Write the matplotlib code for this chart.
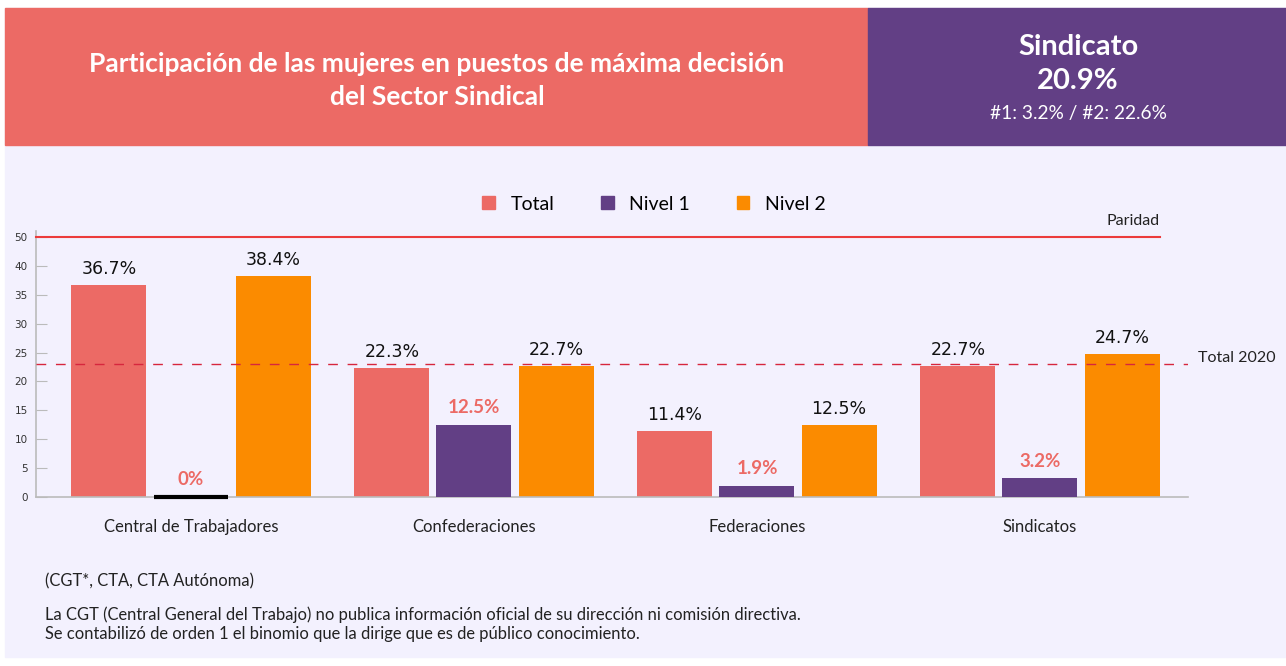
import numpy as np
import matplotlib.pyplot as plt
from matplotlib.patches import Rectangle, Patch

# data
categories = ['Central de Trabajadores', 'Confederaciones', 'Federaciones', 'Sindicatos']
total = [36.7, 22.3, 11.4, 22.7]
nivel1 = [0.0, 12.5, 1.9, 3.2]
nivel2 = [38.4, 22.7, 12.5, 24.7]
series_names = ['Total', 'Nivel 1', 'Nivel 2']
total_2020 = 23.0
paridad_pos = 45   # the chart draws the "50" tick where 45 would be
ytick_pos = [0, 5, 10, 15, 20, 25, 30, 35, 40, 45]
ytick_labels = ['0', '5', '10', '15', '20', '25', '30', '35', '40', '50']

c_total = '#ec6a65'
c_n1 = '#623f85'
c_n2 = '#fb8b00'
bg = '#f3f1fe'

plt.rcParams['font.family'] = ['Lato', 'DejaVu Sans']

fig = plt.figure(figsize=(12.86, 6.66), dpi=100)
fig.patch.set_facecolor('white')

# background panels
W, H = 1286, 666
def px_rect(x0, y0, x1, y1, color):
    fig.patches.append(Rectangle((x0 / W, 1 - y1 / H), (x1 - x0) / W, (y1 - y0) / H,
                                 transform=fig.transFigure, color=color, zorder=-5))
px_rect(5, 8, 1286, 657, bg)
px_rect(5, 8, 868, 145, c_total)
px_rect(868, 8, 1286, 145, c_n1)

fig.text(437 / W, 1 - 64 / H, 'Participación de las mujeres en puestos de máxima decisión',
         color='white', fontsize=19, fontweight='bold', ha='center', va='center')
fig.text(437 / W, 1 - 97 / H, 'del Sector Sindical',
         color='white', fontsize=19, fontweight='bold', ha='center', va='center')
fig.text(1078 / W, 1 - 47 / H, 'Sindicato', color='white', fontsize=21,
         fontweight='bold', ha='center', va='center')
fig.text(1078 / W, 1 - 81 / H, '20.9%', color='white', fontsize=21,
         fontweight='bold', ha='center', va='center')
fig.text(1078 / W, 1 - 114 / H, '#1: 3.2% / #2: 22.6%', color='white', fontsize=13.8,
         ha='center', va='center')

# axes
ax = fig.add_axes([36 / W, 0.2542, (1188 - 36) / W, 0.3996])
ax.set_zorder(2)
ax.set_facecolor('none')
x = np.arange(len(categories))
off = 0.29
w = 0.265

b1 = ax.bar(x - off, total, w, color=c_total, zorder=2)
edge = ['black' if v == 0 else 'none' for v in nivel1]
b2 = ax.bar(x, nivel1, w, color=c_n1, edgecolor=edge, linewidth=3, zorder=4, clip_on=False)
b3 = ax.bar(x + off, nivel2, w, color=c_n2, zorder=2)

for bars, vals in ((b1, total), (b3, nivel2)):
    for r, v in zip(bars, vals):
        ax.annotate(f'{v:g}%', (r.get_x() + r.get_width() / 2, v), xytext=(0, 5),
                    textcoords='offset points', ha='center', va='bottom',
                    fontsize=12.5, color='#111', family='DejaVu Sans')
for r, v in zip(b2, nivel1):
    ax.annotate(f'{v:g}%', (r.get_x() + r.get_width() / 2, v), xytext=(0, 6),
                textcoords='offset points', ha='center', va='bottom',
                fontsize=13.5, color=c_total, fontweight='bold')

ax.set_xlim(-0.5477, 3.523)
ax.set_ylim(0, 46.2)

# reference lines
right_end = x[-1] + off + w / 2
ax.plot([-0.5477, right_end], [paridad_pos, paridad_pos], color='#ec3b3b', lw=1.5, zorder=3,
        clip_on=False)
ax.text(right_end, paridad_pos + 1.6, 'Paridad', ha='right', va='bottom', fontsize=11.5, color='#222')
ax.axhline(total_2020, color='#d7263d', lw=1, dashes=(7, 7), zorder=3)
ax.text(1.009, total_2020 + 1, 'Total 2020', transform=ax.get_yaxis_transform(),
        ha='left', va='center', fontsize=11.5, color='#222')

ax.set_yticks(ytick_pos)
ax.set_yticklabels(ytick_labels, family='DejaVu Sans')
ax.tick_params(axis='y', direction='in', length=8, color='#bbbbbb', labelsize=7.5,
               labelcolor='#333', pad=6)
ax.set_xticks(x)
ax.set_xticklabels(categories, fontsize=12, color='#222')
ax.tick_params(axis='x', length=0, pad=16)
for s in ('top', 'right'):
    ax.spines[s].set_visible(False)
ax.spines['left'].set_color('#bbbbbb')
ax.spines['bottom'].set_color('#bbbbbb')
ax.spines['left'].set_linewidth(1.2)
ax.spines['bottom'].set_linewidth(1.2)

handles = [Patch(color=c) for c in (c_total, c_n1, c_n2)]
fig.legend(handles, series_names, loc='center', bbox_to_anchor=(654 / W, 1 - 204 / H),
           ncol=3, frameon=False, fontsize=14, handlelength=0.65, handleheight=0.65,
           columnspacing=2.4, handletextpad=0.8)

fig.text(45 / W, 1 - 581 / H, '(CGT*, CTA, CTA Autónoma)', fontsize=11.9, color='#222', va='center')
fig.text(45 / W, 1 - 615 / H,
         'La CGT (Central General del Trabajo) no publica información oficial de su dirección ni comisión directiva.',
         fontsize=11.9, color='#222', va='center')
fig.text(45 / W, 1 - 634 / H,
         'Se contabilizó de orden 1 el binomio que la dirige que es de público conocimiento.',
         fontsize=11.9, color='#222', va='center')

fig.savefig('out.png', dpi=100, facecolor=fig.get_facecolor())
